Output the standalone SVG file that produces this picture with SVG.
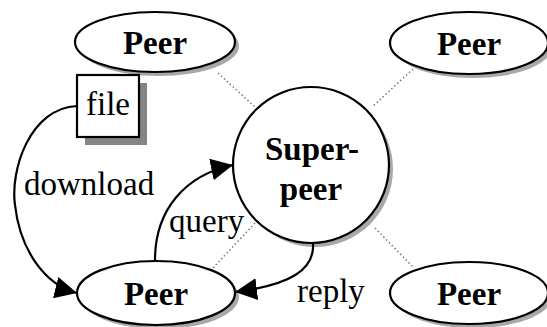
<svg xmlns="http://www.w3.org/2000/svg" width="547" height="327" viewBox="0 0 547 327">
  <style>
    .node { fill: #fff; stroke: #000; stroke-width: 2.2; }
    .shadow { fill: #a8a8a8; }
    .box-shadow { fill: #858585; }
    .label { font-family: "Liberation Serif", "Times New Roman", serif; font-weight: bold; font-size: 33px; text-anchor: middle; fill: #000; }
    .edge-text { font-family: "Liberation Serif", "Times New Roman", serif; font-size: 33px; fill: #000; }
    .link { stroke: #777; stroke-width: 1.5; stroke-dasharray: 1.5 2.5; fill: none; }
    .flow { stroke: #000; stroke-width: 2.2; fill: none; }
  </style>
  <defs>
    <marker id="arrow" viewBox="0 0 10 10" refX="10" refY="5" markerWidth="22" markerHeight="22" markerUnits="userSpaceOnUse" orient="auto">
      <path d="M0,0 L10,5 L0,10 z" fill="#000"/>
    </marker>
  </defs>
  <rect width="547" height="327" fill="#fff"/>

  <!-- overlay links between super-peer and peers -->
  <g id="links">
    <line class="link" x1="218" y1="73" x2="255" y2="107"/>
    <line class="link" x1="413" y1="69" x2="372" y2="107"/>
    <line class="link" x1="375" y1="228" x2="413" y2="267"/>
    <line class="link" x1="255" y1="223" x2="213" y2="268"/>
  </g>

  <g id="peer-top-left">
    <ellipse class="shadow" cx="159" cy="46" rx="80" ry="30"/>
    <ellipse class="node" cx="155" cy="42" rx="80" ry="30"/>
    <text class="label" x="155" y="54">Peer</text>
  </g>

  <g id="peer-top-right">
    <ellipse class="shadow" cx="473" cy="47" rx="79" ry="31"/>
    <ellipse class="node" cx="469" cy="43" rx="79" ry="31"/>
    <text class="label" x="469" y="55">Peer</text>
  </g>

  <g id="peer-bottom-right">
    <ellipse class="shadow" cx="473" cy="297" rx="79" ry="31"/>
    <ellipse class="node" cx="469" cy="293" rx="79" ry="31"/>
    <text class="label" x="469" y="305">Peer</text>
  </g>

  <g id="peer-bottom-left">
    <ellipse class="shadow" cx="160" cy="297" rx="79" ry="32"/>
    <ellipse class="node" cx="156" cy="293" rx="79" ry="32"/>
    <text class="label" x="156" y="305">Peer</text>
  </g>

  <g id="super-peer">
    <circle class="shadow" cx="315" cy="169" r="78"/>
    <circle class="node" cx="311" cy="165" r="78"/>
    <text class="label" x="312" y="160">Super-</text>
    <text class="label" x="311" y="200">peer</text>
  </g>

  <g id="file">
    <rect class="box-shadow" x="85" y="83" width="62" height="62"/>
    <rect class="node" x="77" y="75" width="62" height="62"/>
    <text class="edge-text" x="108" y="115" text-anchor="middle">file</text>
  </g>

  <g id="connectors">
    <path class="flow" d="M77,106 C30,108 10,170 15,205 C20,250 45,285 77,293" marker-end="url(#arrow)"/>
    <path class="flow" d="M155,260 C155,210 185,175 233,165" marker-end="url(#arrow)"/>
    <path class="flow" d="M313,243 C315,270 290,285 235,292" marker-end="url(#arrow)"/>
    <text class="edge-text" x="24" y="195">download</text>
    <text class="edge-text" x="169" y="232">query</text>
    <text class="edge-text" x="297" y="302">reply</text>
  </g>
</svg>
